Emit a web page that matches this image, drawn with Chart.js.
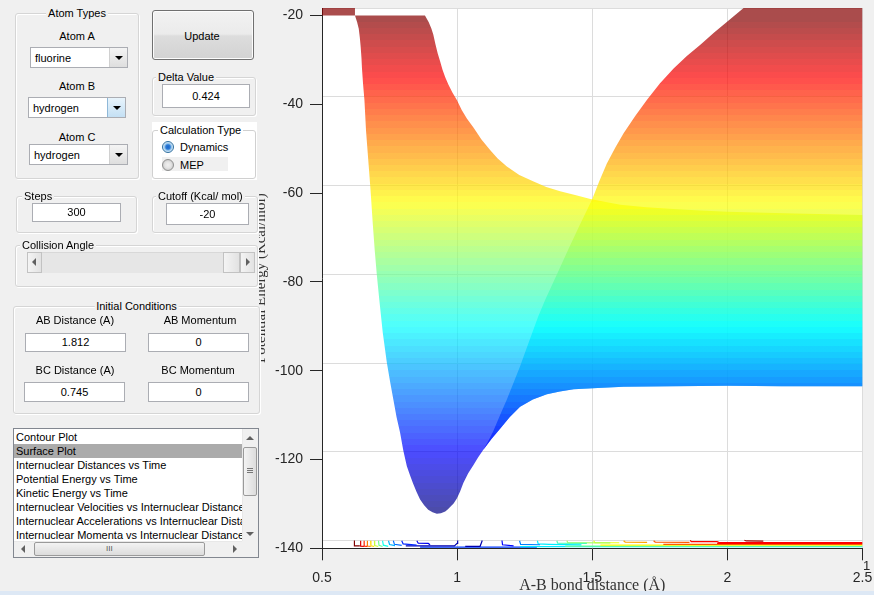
<!DOCTYPE html>
<html>
<head>
<meta charset="utf-8">
<script src="https://cdn.jsdelivr.net/npm/chart.js@4.4.1/dist/chart.umd.min.js"></script>
<style>
html,body{margin:0;padding:0;}
body{width:874px;height:595px;background:#f0f0f0;position:relative;overflow:hidden;font-family:"Liberation Sans",Arial,sans-serif;font-size:11px;color:#000;}
#chartBox{position:absolute;left:0;top:0;width:874px;height:595px;z-index:1;}
#panel{position:absolute;left:0;top:0;width:259px;height:591px;background:#f0f0f0;z-index:2;}
.grp{position:absolute;border:1px solid #d5d5d5;border-radius:3px;box-shadow:inset 1px 1px 0 #fff,1px 1px 0 #fff;box-sizing:border-box;}
.gt{position:absolute;top:-7px;background:#f0f0f0;padding:0 2px;line-height:13px;white-space:nowrap;}
.lbl{position:absolute;white-space:nowrap;line-height:13px;transform:translate(-50%,-50%);}
.inp{position:absolute;background:#fff;border:1px solid #abadb3;box-sizing:border-box;text-align:center;white-space:nowrap;}
.dd{position:absolute;background:#fff;border:1px solid #abadb3;box-sizing:border-box;}
.dd span{position:absolute;left:4px;top:50%;transform:translateY(-50%);}
.dd .btn{position:absolute;right:0;top:0;bottom:0;width:17px;border-left:1px solid #d0d0d0;background:linear-gradient(#f4f4f4,#dedede);}
.dd .btn.hot{background:linear-gradient(#e8f4fc,#c4e0f4);border-left:1px solid #8fb8d8;}
.tri{position:absolute;left:50%;top:50%;margin-left:-4px;margin-top:-2px;width:0;height:0;border-left:4px solid transparent;border-right:4px solid transparent;border-top:4px solid #000;}
.radio{position:absolute;width:12px;height:12px;border-radius:50%;box-sizing:border-box;}
.sbtn{position:absolute;box-sizing:border-box;border:1px solid #c2c2c2;background:linear-gradient(90deg,#f4f4f4,#e2e2e2);}
.list div.it{height:14px;line-height:14px;padding-left:2px;white-space:nowrap;overflow:hidden;}
</style>
</head>
<body>
<div id="chartBox"><canvas id="c"></canvas></div>

<div id="panel">
  <!-- Atom types -->
  <div class="grp" style="left:15px;top:13px;width:124px;height:166px;">
    <span class="gt" style="left:50%;transform:translateX(-50%);">Atom Types</span>
  </div>
  <span class="lbl" style="left:77px;top:36px;">Atom A</span>
  <div class="dd" style="left:30px;top:47px;width:98px;height:21px;"><span>fluorine</span><div class="btn"><div class="tri"></div></div></div>
  <span class="lbl" style="left:77px;top:86px;">Atom B</span>
  <div class="dd" style="left:28px;top:97px;width:98px;height:21px;"><span>hydrogen</span><div class="btn hot"><div class="tri"></div></div></div>
  <span class="lbl" style="left:77px;top:137px;">Atom C</span>
  <div class="dd" style="left:29px;top:144px;width:99px;height:21px;"><span>hydrogen</span><div class="btn"><div class="tri"></div></div></div>

  <!-- Update -->
  <div style="position:absolute;left:152px;top:10px;width:102px;height:50px;box-sizing:border-box;border:1px solid #707070;border-radius:3px;background:linear-gradient(#f2f2f2 0%,#ebebeb 48%,#dddddd 52%,#d2d2d2 100%);box-shadow:inset 0 0 0 1px #fcfcfc;"></div>
  <span class="lbl" style="left:202px;top:36px;">Update</span>

  <!-- Delta value -->
  <div class="grp" style="left:152px;top:77px;width:104px;height:39px;">
    <span class="gt" style="left:3px;">Delta Value</span>
  </div>
  <div class="inp" style="left:162px;top:84px;width:88px;height:24px;line-height:22px;">0.424</div>

  <!-- Calculation type -->
  <div style="position:absolute;left:152px;top:122px;width:105px;height:58px;background:#fff;"></div>
  <div class="grp" style="left:152px;top:130px;width:104px;height:49px;box-shadow:none;border-color:#d0d0d0;">
    <span class="gt" style="left:5px;background:#fff;">Calculation Type</span>
  </div>
  <div class="radio" style="left:162px;top:141px;border:1px solid #2f6f9f;background:radial-gradient(circle,#1a64c8 0,#2b7ad6 2.2px,#8ec0ea 3.4px,#dcecf9 5px);"></div>
  <span style="position:absolute;left:180px;top:140px;line-height:14px;">Dynamics</span>
  <div style="position:absolute;left:162px;top:157px;width:66px;height:14px;background:#f0f0f0;"></div>
  <div class="radio" style="left:162px;top:159px;border:1px solid #8e8f8f;background:radial-gradient(circle,#f0f0f0 0,#e4e4e4 3px,#d0d0d0 5px);"></div>
  <span style="position:absolute;left:180px;top:158px;line-height:14px;">MEP</span>

  <!-- Steps -->
  <div class="grp" style="left:16px;top:196px;width:121px;height:37px;">
    <span class="gt" style="left:5px;">Steps</span>
  </div>
  <div class="inp" style="left:32px;top:203px;width:89px;height:19px;line-height:17px;">300</div>

  <!-- Cutoff -->
  <div class="grp" style="left:152px;top:196px;width:106px;height:37px;">
    <span class="gt" style="left:3px;">Cutoff (Kcal/ mol)</span>
  </div>
  <div class="inp" style="left:166px;top:203px;width:83px;height:22px;line-height:20px;">-20</div>

  <!-- Collision angle -->
  <div class="grp" style="left:15px;top:245px;width:243px;height:42px;">
    <span class="gt" style="left:4px;">Collision Angle</span>
  </div>
  <div style="position:absolute;left:27px;top:252px;width:228px;height:21px;background:#e6e6e6;border-top:1px solid #d8d8d8;box-sizing:border-box;"></div>
  <div class="sbtn" style="left:27px;top:252px;width:15px;height:21px;"></div>
  <div style="position:absolute;left:32px;top:258px;width:0;height:0;border-top:4px solid transparent;border-bottom:4px solid transparent;border-right:4px solid #606060;"></div>
  <div class="sbtn" style="left:223px;top:252px;width:17px;height:21px;"></div>
  <div class="sbtn" style="left:240px;top:252px;width:15px;height:21px;"></div>
  <div style="position:absolute;left:246px;top:258px;width:0;height:0;border-top:4px solid transparent;border-bottom:4px solid transparent;border-left:4px solid #606060;"></div>

  <!-- Initial conditions -->
  <div class="grp" style="left:13px;top:306px;width:247px;height:108px;">
    <span class="gt" style="left:50%;transform:translateX(-50%);">Initial Conditions</span>
  </div>
  <span class="lbl" style="left:75px;top:320px;">AB Distance (A)</span>
  <span class="lbl" style="left:200px;top:320px;">AB Momentum</span>
  <div class="inp" style="left:25px;top:333px;width:101px;height:19px;line-height:17px;">1.812</div>
  <div class="inp" style="left:148px;top:333px;width:101px;height:19px;line-height:17px;">0</div>
  <span class="lbl" style="left:75px;top:370px;">BC Distance (A)</span>
  <span class="lbl" style="left:198px;top:370px;">BC Momentum</span>
  <div class="inp" style="left:24px;top:382px;width:101px;height:20px;line-height:18px;">0.745</div>
  <div class="inp" style="left:148px;top:382px;width:101px;height:20px;line-height:18px;">0</div>

  <!-- List box -->
  <div class="list" style="position:absolute;left:13px;top:428px;width:246px;height:130px;background:#fff;border:1px solid #828790;box-sizing:border-box;overflow:hidden;">
    <div style="position:absolute;left:0;top:1px;width:228px;">
      <div class="it">Contour Plot</div>
      <div class="it" style="background:#ababab;">Surface Plot</div>
      <div class="it">Internuclear Distances vs Time</div>
      <div class="it">Potential Energy vs Time</div>
      <div class="it">Kinetic Energy vs Time</div>
      <div class="it">Internuclear Velocities vs Internuclear Distance</div>
      <div class="it">Internuclear Accelerations vs Internuclear Distances</div>
      <div class="it">Internuclear Momenta vs Internuclear Distance</div>
    </div>
    <div style="position:absolute;left:228px;top:0;width:16px;height:113px;background:#f0f0f0;border-left:1px solid #e8e8e8;box-sizing:border-box;"></div>
    <div style="position:absolute;left:232px;top:7px;width:0;height:0;border-left:4px solid transparent;border-right:4px solid transparent;border-bottom:4px solid #606060;"></div>
    <div style="position:absolute;left:229px;top:18px;width:14px;height:49px;border:1px solid #9a9a9a;border-radius:2px;box-sizing:border-box;background:linear-gradient(90deg,#f3f3f3,#dcdcdc);"></div>
    <div style="position:absolute;left:233px;top:39px;width:6px;height:5px;border-top:1px solid #777;border-bottom:1px solid #777;box-sizing:border-box;"></div>
    <div style="position:absolute;left:233px;top:41px;width:6px;height:1px;background:#777;"></div>
    <div style="position:absolute;left:232px;top:103px;width:0;height:0;border-left:4px solid transparent;border-right:4px solid transparent;border-top:4px solid #606060;"></div>
    <div style="position:absolute;left:0;top:112px;width:228px;height:16px;background:#f0f0f0;border-top:1px solid #e8e8e8;box-sizing:border-box;"></div>
    <div style="position:absolute;left:228px;top:112px;width:16px;height:16px;background:#f0f0f0;"></div>
    <div style="position:absolute;left:7px;top:116px;width:0;height:0;border-top:4px solid transparent;border-bottom:4px solid transparent;border-right:4px solid #606060;"></div>
    <div style="position:absolute;left:20px;top:113px;width:171px;height:14px;border:1px solid #9a9a9a;border-radius:2px;box-sizing:border-box;background:linear-gradient(#f3f3f3,#dcdcdc);"></div>
    <div style="position:absolute;left:92px;top:117px;font-size:8px;line-height:6px;color:#555;">III</div>
    <div style="position:absolute;left:219px;top:116px;width:0;height:0;border-top:4px solid transparent;border-bottom:4px solid transparent;border-left:4px solid #606060;"></div>
  </div>
</div>
<span style="position:absolute;left:863px;top:558px;font-size:13px;color:#262626;z-index:3;">1</span>
<div style="position:absolute;left:0;top:591px;width:874px;height:4px;background:#dde8f5;z-index:3;"></div>

<script>
// ---------- data ----------
const xTicks = [0.5, 1, 1.5, 2, 2.5];
const yTicks = [-140, -120, -100, -80, -60, -40, -20];

// lower edge of the surface (bottom of the well): A-B distance vs energy
const wellLowerX = [0.622,0.630,0.636,0.640,0.643,0.646,0.648,0.652,0.657,0.663,0.668,0.673,0.678,0.682,0.688,0.695,0.703,0.712,0.725,0.740,0.752,0.764,0.776,0.789,0.801,0.814,0.826,0.837,0.850,0.863,0.878,0.893,0.909,0.925,0.940,0.956,0.966,0.974,0.987,0.999,1.011,1.023,1.041,1.060,1.078,1.097,1.127,1.159,1.195,1.233,1.280,1.332,1.380,1.431,1.520,1.616,1.800,2.000,2.200,2.500];
const wellLowerY = [-20,-21.5,-23,-25,-27,-29.5,-32,-35.5,-39,-46,-50,-54,-58,-61.5,-67,-72.8,-78.5,-84,-91.5,-98.2,-102.5,-106.5,-110.5,-114,-118,-121.5,-123.6,-125.4,-127.3,-129,-130.3,-131.3,-131.9,-132.2,-132.1,-131.7,-131.2,-130.7,-129.9,-128.8,-127.2,-125.3,-123.1,-121.3,-119.5,-117.8,-115.4,-113.1,-110.4,-108.1,-106.5,-105.3,-104.7,-104.2,-103.9,-103.6,-103.5,-103.4,-103.5,-103.5];

// upper edge of the well region
const wellUpperX = [0.881,0.895,0.905,0.912,0.920,0.928,0.937,0.946,0.956,0.968,0.982,0.999,1.017,1.036,1.061,1.090,1.122,1.150,1.184,1.230,1.283,1.330,1.381,1.440,1.493,1.550,1.604,1.700,1.800,1.900,2.000,2.250,2.500];
const wellUpperY = [-20,-21.5,-23,-24.3,-26.5,-28.5,-30.3,-32.2,-33.9,-35.6,-37.3,-39,-41.3,-43.2,-45.3,-47.9,-50.3,-52.2,-54,-55.9,-57.4,-58.6,-59.6,-60.5,-61.3,-62,-62.6,-63.2,-63.6,-63.9,-64.2,-64.6,-64.9];

// left edge of the rising sheet (diagonal ridge)
const ridgeX = [1.097,1.115,1.134,1.159,1.184,1.208,1.233,1.255,1.277,1.300,1.326,1.369,1.412,1.455,1.499,1.526,1.554,1.585,1.616,1.659,1.702,1.750,1.801,1.850,1.900,1.950,1.999,2.030,2.060,2.076];
const ridgeY = [-117.8,-115.9,-113.6,-110,-106.5,-102.8,-99,-95.3,-91.6,-87.8,-84,-78.3,-72.6,-67,-61.5,-57.3,-53.3,-49.8,-46.5,-42.6,-39,-35.3,-31.9,-29.1,-26.6,-23.9,-21.4,-19.8,-18.3,-17.5];

// flat cut-off strip at the top left
const capX = [0.5, 0.622];
const capY = [-20, -17.5];

// colour range of the surface (minimum energy .. cutoff)
const energyMin = -132.2;
const energyCutoff = -20;

// projected contour lines on the floor: level (energy) and path
const contourLevels = [-20,-30,-38,-48,-58,-68,-78,-88,-98,-106,-114,-120,-127,-127,-118,-104,-92,-82,-72,-64,-52,-44,-34,-24,-34,-44,-62,-78,-92,-112];
const contourPaths = [
  [[0.620,-138.25],[0.620,-139.45],[0.640,-139.45]],
  [[0.643,-138.3],[0.643,-139.5],[0.655,-139.55]],
  [[0.656,-138.3],[0.656,-139.5],[0.668,-139.55]],
  [[0.668,-138.3],[0.668,-139.5],[0.680,-139.6]],
  [[0.680,-138.3],[0.681,-139.45],[0.693,-139.6]],
  [[0.694,-138.3],[0.695,-139.4],[0.708,-139.6]],
  [[0.709,-138.3],[0.711,-139.35],[0.724,-139.6]],
  [[0.724,-138.3],[0.727,-139.3],[0.745,-139.55]],
  [[0.746,-138.3],[0.750,-139.15],[0.770,-139.4]],
  [[0.764,-138.3],[0.768,-139.1],[0.795,-139.35]],
  [[0.795,-138.3],[0.800,-139.0],[0.850,-139.3]],
  [[0.851,-138.3],[0.856,-138.85],[0.893,-138.9],[0.900,-139.2]],
  [[0.810,-139.45],[0.990,-139.45],[1.000,-138.9],[1.002,-138.25]],
  [[1.030,-139.55],[1.085,-139.55],[1.093,-138.25]],
  [[1.166,-138.25],[1.168,-139.2],[1.209,-139.45]],
  [[1.231,-138.3],[1.235,-139.1],[1.307,-139.2]],
  [[1.297,-138.3],[1.300,-139.0],[1.340,-139.1],[1.460,-139.25]],
  [[1.369,-138.3],[1.372,-138.85],[1.480,-138.9]],
  [[1.406,-138.3],[1.410,-138.75],[1.567,-138.8]],
  [[1.505,-138.3],[1.510,-138.7],[1.600,-138.75]],
  [[1.616,-138.3],[1.622,-138.6],[1.703,-138.65]],
  [[1.727,-138.3],[1.733,-138.6],[1.860,-138.65]],
  [[1.863,-138.2],[1.866,-138.5],[1.962,-138.5],[1.970,-138.7],[2.500,-138.7]],
  [[2.063,-138.2],[2.070,-138.35],[2.133,-138.4]],
  [[1.962,-138.9],[2.500,-138.9]],
  [[1.763,-139.1],[2.500,-139.1]],
  [[1.530,-139.3],[2.500,-139.3]],
  [[1.400,-139.5],[2.500,-139.5]],
  [[1.233,-139.62],[2.500,-139.62]],
  [[0.863,-139.75],[1.295,-139.75]]
];

// ---------- helpers ----------
function jet(t) {
  const c = v => Math.max(0, Math.min(1, v));
  return [c(1.5 - Math.abs(4 * t - 3)), c(1.5 - Math.abs(4 * t - 2)), c(1.5 - Math.abs(4 * t - 1))];
}
function jetColor(level, alpha) {
  const t = (level - energyMin) / (energyCutoff - energyMin);
  const [r, g, b] = jet(Math.max(0, Math.min(1, t)));
  return `rgba(${Math.round(r*255)},${Math.round(g*255)},${Math.round(b*255)},${alpha})`;
}
let gradCache = null, gradKey = '';
function surfaceFill(ctx) {
  const chart = ctx.chart;
  if (!chart.chartArea) return 'rgba(0,0,0,0)';
  const ys = chart.scales.y;
  const p0 = ys.getPixelForValue(energyMin), p1 = ys.getPixelForValue(energyCutoff);
  const key = p0 + '_' + p1;
  if (gradCache && gradKey === key) return gradCache;
  const g = chart.ctx.createLinearGradient(0, p0, 0, p1);
  const N = 80;
  for (let i = 0; i < N; i++) {
    const col = jetColor(energyMin + (i + 0.5) / N * (energyCutoff - energyMin), 0.7);
    g.addColorStop(i / N, col);
    g.addColorStop((i + 1) / N, col);
  }
  gradCache = g; gradKey = key;
  return g;
}
const pts = (xs, ys) => xs.map((x, i) => ({x, y: ys[i]}));

// polygons of the surface silhouette
const lowerPts = pts(wellLowerX, wellLowerY);
const upperPts = pts(wellUpperX, wellUpperY);
const ridgePts = pts(ridgeX, ridgeY);
const polyWell = lowerPts.concat(upperPts.slice().reverse());
const lastLower = lowerPts[lowerPts.length - 1];
const polySheet = ridgePts
  .concat([{x: lastLower.x, y: ridgeY[ridgeY.length - 1]}, {x: lastLower.x, y: lastLower.y}])
  .concat(lowerPts.filter(p => p.x > ridgeX[0]).reverse());
const polyCap = [{x: capX[0], y: capY[0]}, {x: capX[1], y: capY[0]}, {x: capX[1], y: capY[1]}, {x: capX[0], y: capY[1]}];

const surfaceStyle = {
  type: 'scatter', showLine: true, fill: 'shape', tension: 0,
  pointRadius: 0, borderWidth: 0, borderColor: 'rgba(0,0,0,0)',
  backgroundColor: surfaceFill, yAxisID: 'y'
};
const datasets = [
  Object.assign({data: polyWell, order: 3}, surfaceStyle),
  Object.assign({data: polySheet, order: 2}, surfaceStyle),
  Object.assign({data: polyCap, order: 2}, surfaceStyle)
];
contourPaths.forEach((path, i) => {
  datasets.push({
    type: 'scatter', showLine: true, fill: false, tension: 0, order: 1,
    data: path.map(p => ({x: p[0], y: p[1]})),
    borderColor: jetColor(contourLevels[i], 1), borderWidth: 1.2,
    pointRadius: 0, yAxisID: 'y'
  });
});

const whiteArea = {
  id: 'whiteArea',
  beforeDraw(chart) {
    const {ctx, chartArea: a} = chart;
    ctx.save(); ctx.fillStyle = '#ffffff';
    ctx.fillRect(a.left, a.top, a.right - a.left, a.bottom - a.top);
    ctx.restore();
  }
};

const tickFont = {family: '"Liberation Sans", Arial, sans-serif', size: 14};
const titleFont = {family: '"Liberation Serif", "Times New Roman", serif', size: 16};

new Chart(document.getElementById('c'), {
  type: 'scatter',
  data: {datasets},
  plugins: [whiteArea],
  options: {
    responsive: true, maintainAspectRatio: false, animation: false,
    layout: {padding: {left: 240, right: 11.5, top: 8, bottom: 0}},
    plugins: {legend: {display: false}, tooltip: {enabled: false}},
    scales: {
      x: {
        type: 'linear', min: 0.5, max: 2.5,
        afterBuildTicks: s => { s.ticks = xTicks.map(v => ({value: v})); },
        ticks: {font: tickFont, color: '#262626', padding: 9, maxRotation: 0, autoSkip: false, callback: v => String(v)},
        grid: {color: '#dcdcdc', tickColor: '#262626', tickLength: 12},
        border: {color: '#262626', width: 1},
        title: {display: true, text: 'A-B bond distance (Å)', font: titleFont, color: '#333333', padding: 0},
        afterFit: s => { s.height = 46.7; s.paddingLeft = 0; s.paddingRight = 0; }
      },
      y: {
        type: 'linear', position: 'left', min: -140, max: -18.3,
        afterBuildTicks: s => { s.ticks = yTicks.map(v => ({value: v})); },
        ticks: {font: tickFont, color: '#262626', padding: 7},
        grid: {drawOnChartArea: false, tickColor: '#262626', tickLength: 12},
        border: {color: '#262626', width: 1},
        title: {display: true, text: 'Potential Energy (Kcal/mol)', font: {family: titleFont.family, size: 15}, color: '#333333', padding: {top: 12, bottom: 0}},
        afterFit: s => { s.width = 82; s.paddingTop = 0; s.paddingBottom = 0; }
      },
      y2: {
        type: 'linear', position: 'right', min: -141.7, max: -20,
        afterBuildTicks: s => { s.ticks = yTicks.map(v => ({value: v})); },
        ticks: {display: false},
        grid: {color: '#dcdcdc', drawTicks: false},
        border: {display: false},
        afterFit: s => { s.width = 0; s.paddingTop = 0; s.paddingBottom = 0; }
      }
    }
  }
});
</script>
</body>
</html>
